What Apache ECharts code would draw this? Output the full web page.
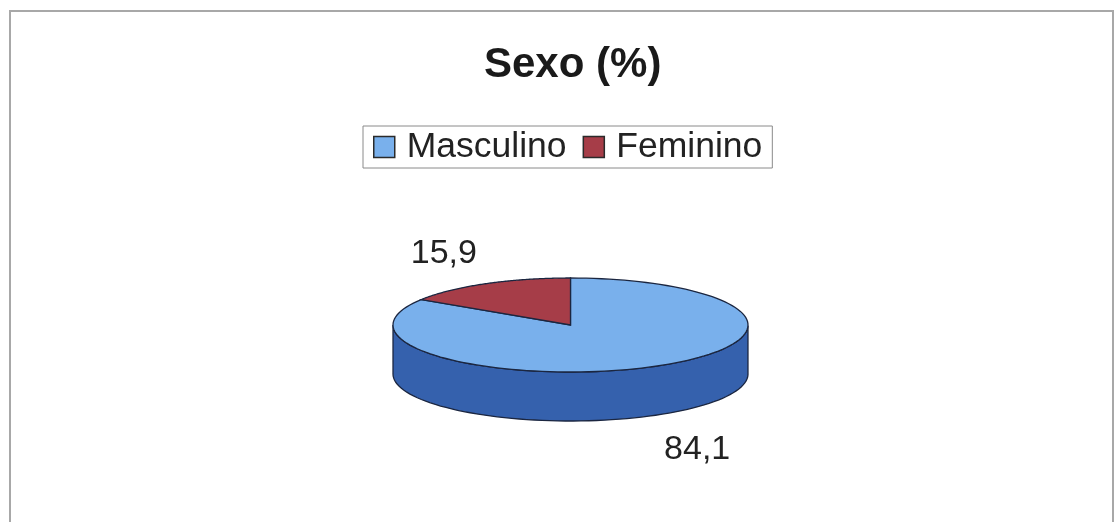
<!DOCTYPE html>
<html>
<head>
<meta charset="utf-8">
<script src="https://cdn.jsdelivr.net/npm/echarts@6/dist/echarts.min.js"></script>
<style>html,body{margin:0;padding:0;background:#fff;}#c{width:1115px;height:522px;}</style>
</head>
<body>
<div id="c"></div>
<script>
const categories = ['Masculino', 'Feminino'];
const values = [84.1, 15.9];
const topColors = ['#79b0ec', '#a63d48'];
const sideColors = ['#3561ad', '#6e2430'];
const titleText = 'Sexo (%)';

const chart = echarts.init(document.getElementById('c'));
const total = values.reduce((a, b) => a + b, 0);

// pie geometry (pixels)
const CX = 570.5, CY = 325, RX = 177.5, RY = 47, DEPTH = 49;

function ellPt(a, dy) {
  return [CX + RX * Math.cos(a), CY - RY * Math.sin(a) + (dy || 0)];
}

function renderSlice(params, api) {
  const idx = params.seriesIndex;
  let before = 0;
  for (let i = 0; i < idx; i++) before += values[i];
  const v = api.value(0);
  // start at 12 o'clock, go clockwise
  const a0 = Math.PI / 2 - (before / total) * 2 * Math.PI;
  const a1 = a0 - (v / total) * 2 * Math.PI;
  const children = [];
  const N = 120;
  const segs = [];
  let cur = null;
  for (let k = 0; k <= N; k++) {
    const a = a0 + (a1 - a0) * k / N;
    const s = Math.sin(a);
    if (s <= 0.0001) {
      if (!cur) { cur = []; segs.push(cur); }
      cur.push(a);
    } else cur = null;
  }
  segs.forEach(seg => {
    if (seg.length < 2) return;
    const pts = [];
    seg.forEach(a => pts.push(ellPt(a, 0)));
    for (let k = seg.length - 1; k >= 0; k--) pts.push(ellPt(seg[k], DEPTH));
    children.push({
      type: 'polygon',
      shape: { points: pts },
      style: { fill: sideColors[idx], stroke: '#1b2640', lineWidth: 1.3 },
      z2: 1
    });
  });
  // top face
  const topPts = [[CX, CY]];
  for (let k = 0; k <= N; k++) topPts.push(ellPt(a0 + (a1 - a0) * k / N, 0));
  children.push({
    type: 'polygon',
    shape: { points: topPts },
    style: { fill: topColors[idx], stroke: '#1b2640', lineWidth: 1.3 },
    z2: 2
  });
  // label
  const am = (a0 + a1) / 2;
  const rim = ellPt(am, Math.sin(am) < 0 ? DEPTH : 0);
  const lx = rim[0] + Math.cos(am) * 87;
  const ly = rim[1] - Math.sin(am) * 37 + 2;
  children.push({
    type: 'text',
    style: {
      x: lx, y: ly,
      text: v.toFixed(1).replace('.', ','),
      fill: '#222',
      font: '34px "Liberation Sans", Arial, sans-serif',
      align: 'center', verticalAlign: 'middle'
    },
    z2: 3
  });
  return { type: 'group', children: children };
}

const series = categories.map((name, i) => ({
  type: 'custom',
  name: name,
  coordinateSystem: 'none',
  data: [[values[i]]],
  itemStyle: { color: topColors[i] },
  renderItem: renderSlice,
  silent: true,
  animation: false
}));

chart.setOption({
  backgroundColor: '#ffffff',
  animation: false,
  title: {
    text: titleText,
    left: 479,
    top: 39,
    textStyle: { fontFamily: '"Liberation Sans", Arial, sans-serif', fontSize: 42, fontWeight: 'bold', color: '#1a1a1a' }
  },
  legend: {
    data: categories,
    left: 363,
    top: 126,
    orient: 'horizontal',
    icon: 'rect',
    itemWidth: 21,
    itemHeight: 21,
    itemGap: 16,
    padding: [3, 10, 3, 10],
    borderColor: '#8a8a8a',
    borderWidth: 1,
    backgroundColor: '#fff',
    itemStyle: { borderColor: '#2a2a2a', borderWidth: 1.5 },
    textStyle: { fontFamily: '"Liberation Sans", Arial, sans-serif', fontSize: 35.5, color: '#222', padding: [0, 0, 0, 7], lineHeight: 36 },
    selectedMode: false
  },
  graphic: [{
    type: 'rect',
    shape: { x: 10, y: 11, width: 1103, height: 540 },
    style: { fill: 'none', stroke: '#a8a8a8', lineWidth: 2 },
    silent: true
  }],
  series: series
});
</script>
</body>
</html>
